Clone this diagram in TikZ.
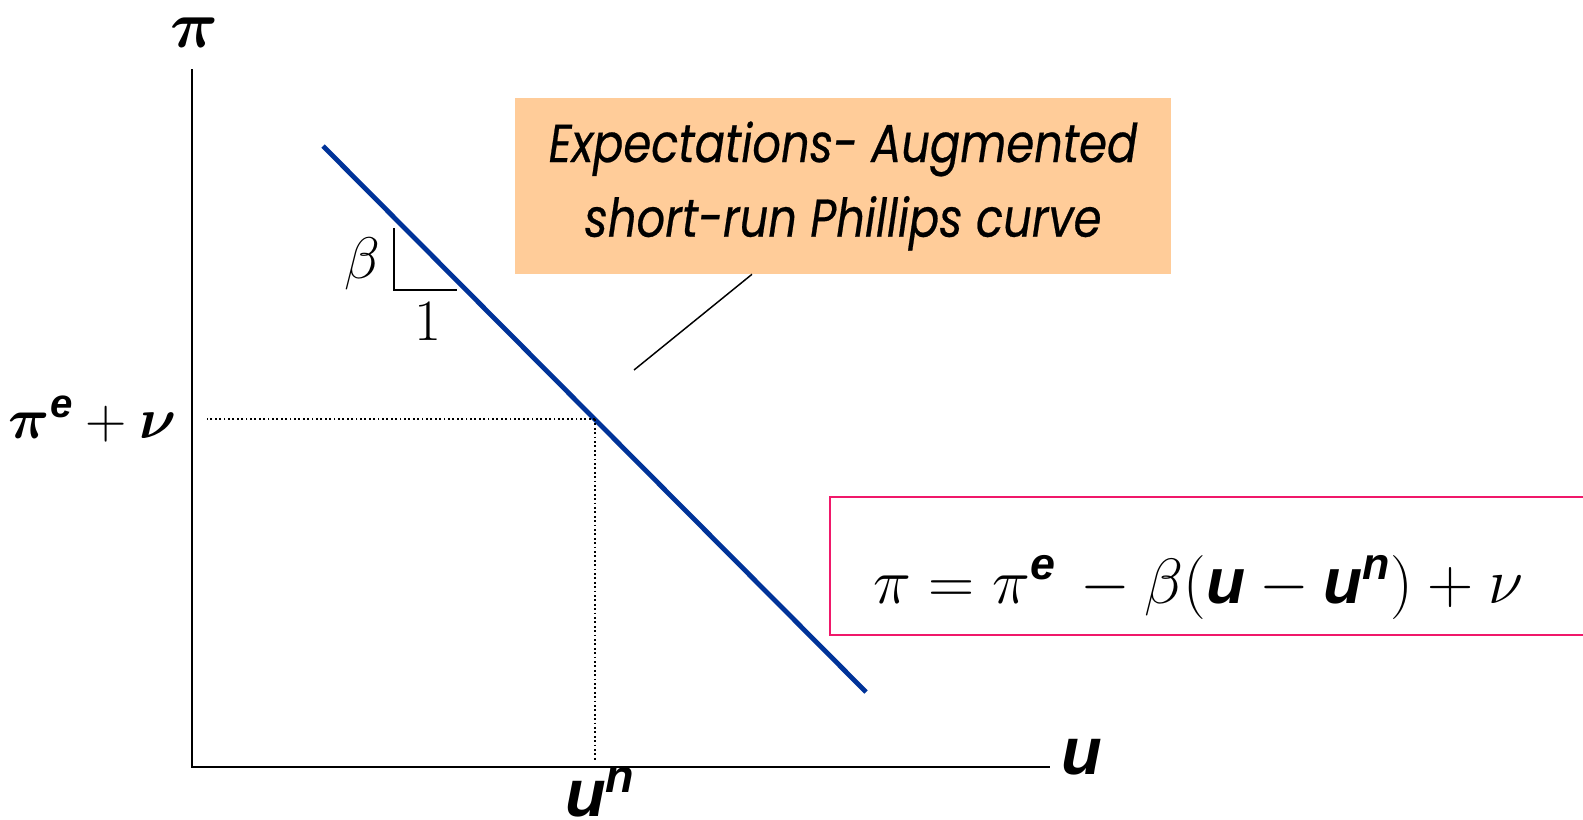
\RequirePackage{fix-cm}
\documentclass[tikz,border=0pt]{standalone}
\usepackage{amsmath,bm}
\usepackage{fontspec}
\newfontfamily\axisfont{Liberation Sans}
\newfontfamily\boxfont{Poppins}[ItalicFeatures={FakeBold=0.5}]
\newcommand{\usym}[1]{{\axisfont\bfseries\itshape #1}}
\newcommand{\narrowline}[1]{\scalebox{0.84}[1]{#1}}
\definecolor{curveblue}{HTML}{003399}
\definecolor{labelorange}{HTML}{FFCC99}
\definecolor{framepink}{HTML}{F0186A}
\usetikzlibrary{positioning, calc}

\begin{document}
\begin{tikzpicture}[
    x=0.75pt, y=-0.75pt,
    axis/.style={line width=1.6pt},
    guide/.style={dotted, line width=1.3pt},
    curve/.style={line width=3.6pt, curveblue},
    slope/.style={line width=1.2pt},
    leader/.style={line width=1.1pt},
    biglabel/.style={inner sep=0pt, font=\fontsize{50}{58}\selectfont},
    midlabel/.style={inner sep=0pt, font=\fontsize{44}{50}\selectfont},
    callout/.style={
        fill=labelorange, inner sep=0pt, align=center,
        minimum width=492pt, minimum height=132pt,
        font=\boxfont\itshape\fontsize{40}{56}\selectfont
    },
    eqframe/.style={draw=framepink, line width=1.6pt, minimum width=577pt, minimum height=104pt}
]
\useasboundingbox (0,0) rectangle (1583,819);

% axes
\coordinate (origin) at (192,767);
\coordinate (ytop) at (192,69);
\coordinate (xend) at (1050,767);
\draw[axis] (ytop) -- (origin) -- (xend);
\node[biglabel] (pilab) at (194,33) {$\bm{\pi}$};
\node[biglabel] (ulab) at (1082,757) {\usym{u}};

% short-run Phillips curve
\coordinate (pcstart) at (323,146);
\coordinate (pcend) at (866,692);
\draw[curve] (pcstart) -- (pcend);

% natural rate point and guides
\coordinate (eqpt) at (595,419);
\node[biglabel, font=\fontsize{43}{50}\selectfont] (pelab) at (93,419) {$\bm{\pi}^{\text{\usym{e}}}+\bm{\nu}$};
\node[biglabel] (unlab) at (600,792) {$\text{\usym{u}}^{\text{\usym{n}}}$};
\draw[guide] (eqpt) -- (207,419);
\draw[guide] (eqpt) -- (eqpt |- 0,760);

% slope triangle
\coordinate (tritop) at (394,228);
\coordinate (tricorner) at (394,290);
\coordinate (triright) at (457,290);
\draw[slope] (tritop) -- (tricorner) -- (triright);
\node[midlabel] (betalab) at (362,264) {$\beta$};
\node[midlabel] (onelab) at (428,322) {$1$};

% callout label
\node[callout] (curvelab) at (843,186) {\narrowline{Expectations- Augmented}\\\narrowline{short-run Phillips curve}};
\coordinate (leadtip) at (634,370);
\draw[leader] ([xshift=-68.25pt]curvelab.south) -- (leadtip);

% equation box
\node[eqframe] (eqbox) at (1215,566) {};
\node[inner sep=0pt, font=\fontsize{48}{56}\selectfont] (eqtext) at (1198,587)
    {$\pi = \pi^{\text{\usym{e}}}\,-\beta(\text{\usym{u}}-\text{\usym{u}}^{\text{\usym{n}}})+\nu$};

\end{tikzpicture}
\end{document}
